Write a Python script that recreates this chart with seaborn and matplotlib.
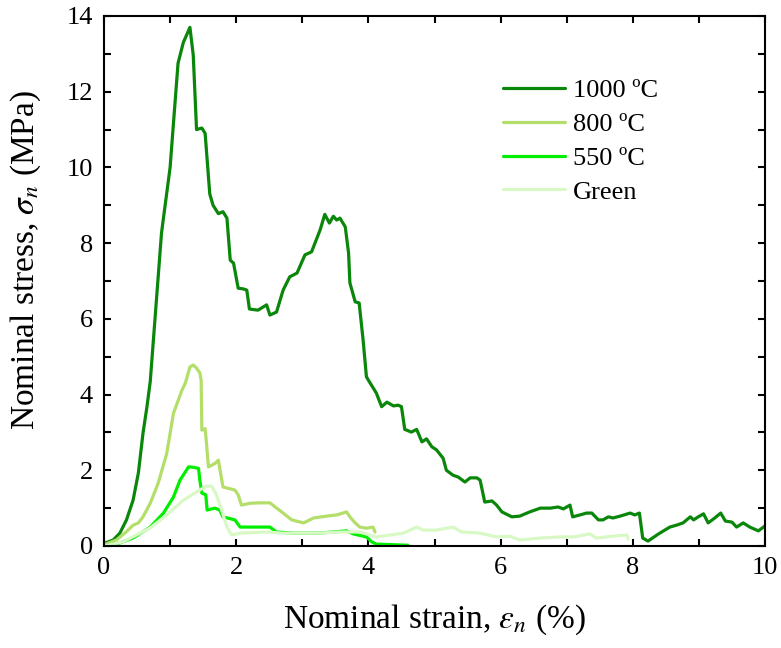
import matplotlib
matplotlib.use("Agg")
import matplotlib.pyplot as plt
import seaborn as sns
import pandas as pd
from matplotlib.ticker import MultipleLocator

# ---- data ----
labels = ["1000 ºC", "800 ºC", "550 ºC", "Green"]
colors = ["#0a870a", "#b3de69", "#00ee00", "#d8f9c6"]

x_1000 = [0.0, 0.02, 0.14, 0.24, 0.34, 0.44, 0.52, 0.59, 0.65, 0.70, 0.87, 1.0, 1.12, 1.2, 1.30,
          1.35, 1.40, 1.48, 1.53, 1.60, 1.65, 1.73, 1.80, 1.86, 1.91, 1.96, 2.03, 2.11, 2.16, 2.20,
          2.33, 2.46, 2.51, 2.61, 2.71, 2.81, 2.92, 3.04, 3.14, 3.27, 3.34, 3.41, 3.47, 3.52, 3.57,
          3.65, 3.70, 3.72, 3.80, 3.86, 3.92, 3.97, 4.0, 4.12, 4.20, 4.28, 4.38, 4.45, 4.50, 4.55,
          4.65, 4.73, 4.81, 4.88, 4.96, 5.03, 5.13, 5.18, 5.28, 5.36, 5.46, 5.54, 5.64, 5.69, 5.76,
          5.87, 5.94, 6.02, 6.17, 6.29, 6.44, 6.60, 6.75, 6.87, 6.95, 7.05, 7.09, 7.20, 7.30, 7.38,
          7.48, 7.55, 7.63, 7.70, 7.81, 7.96, 8.03, 8.10, 8.15, 8.23, 8.39, 8.56, 8.66, 8.76, 8.87,
          8.92, 8.99, 9.07, 9.14, 9.24, 9.33, 9.40, 9.50, 9.57, 9.67, 9.77, 9.90, 10.0]
y_1000 = [0.08, 0.08, 0.16, 0.34, 0.69, 1.21, 1.93, 2.98, 3.68, 4.35, 8.27, 10.0, 12.75, 13.3, 13.7,
          12.97, 11.0, 11.04, 10.9, 9.3, 9.0, 8.78, 8.83, 8.66, 7.55, 7.47, 6.81, 6.79, 6.76, 6.26,
          6.23, 6.37, 6.10, 6.18, 6.76, 7.11, 7.21, 7.69, 7.77, 8.35, 8.76, 8.53, 8.71, 8.61, 8.66,
          8.43, 7.74, 6.95, 6.45, 6.42, 5.44, 4.47, 4.38, 4.04, 3.68, 3.80, 3.70, 3.72, 3.68, 3.08,
          3.01, 3.08, 2.75, 2.83, 2.62, 2.54, 2.32, 2.0, 1.87, 1.82, 1.69, 1.80, 1.80, 1.74, 1.16,
          1.19, 1.08, 0.90, 0.77, 0.79, 0.90, 1.00, 1.00, 1.03, 0.98, 1.08, 0.77, 0.82, 0.87, 0.87,
          0.69, 0.69, 0.77, 0.74, 0.79, 0.87, 0.82, 0.87, 0.21, 0.13, 0.32, 0.50, 0.55, 0.61, 0.77,
          0.69, 0.77, 0.85, 0.61, 0.74, 0.87, 0.66, 0.63, 0.50, 0.61, 0.50, 0.40, 0.53]

x_800 = [0.0, 0.19, 0.34, 0.44, 0.52, 0.59, 0.70, 0.82, 0.95, 1.05, 1.18, 1.23, 1.30, 1.35, 1.40,
         1.45, 1.47, 1.48, 1.53, 1.55, 1.58, 1.68, 1.73, 1.80, 1.86, 1.98, 2.03, 2.08, 2.21, 2.36,
         2.51, 2.59, 2.71, 2.84, 3.02, 3.17, 3.37, 3.52, 3.67, 3.72, 3.80, 3.87, 3.97, 4.07, 4.10]
y_800 = [0.03, 0.16, 0.38, 0.55, 0.61, 0.77, 1.13, 1.66, 2.45, 3.50, 4.12, 4.30, 4.73, 4.78, 4.70,
         4.57, 4.38, 3.06, 3.10, 2.72, 2.09, 2.18, 2.27, 1.56, 1.53, 1.48, 1.35, 1.08, 1.13, 1.14,
         1.14, 1.03, 0.87, 0.69, 0.61, 0.74, 0.79, 0.82, 0.90, 0.77, 0.61, 0.50, 0.47, 0.50, 0.37]

x_550 = [0.0, 0.24, 0.44, 0.70, 0.90, 1.05, 1.15, 1.28, 1.35, 1.43, 1.45, 1.48, 1.54, 1.56, 1.68,
         1.75, 1.80, 1.98, 2.06, 2.36, 2.51, 2.61, 2.86, 3.22, 3.47, 3.67, 3.77, 3.97, 4.05, 4.12, 4.60]
y_550 = [0.0, 0.08, 0.21, 0.50, 0.87, 1.29, 1.74, 2.09, 2.08, 2.05, 1.74, 1.40, 1.35, 0.95, 1.00,
         0.95, 0.77, 0.69, 0.50, 0.50, 0.50, 0.37, 0.34, 0.34, 0.37, 0.40, 0.32, 0.24, 0.11, 0.05, 0.02]

x_green = [0.0, 0.29, 0.49, 0.70, 0.95, 1.20, 1.45, 1.55, 1.63, 1.70, 1.78, 1.86, 1.93, 2.06, 2.46,
           2.71, 3.22, 3.57, 3.87, 4.12, 4.33, 4.53, 4.73, 4.83, 5.03, 5.28, 5.41, 5.69, 5.94, 6.14,
           6.29, 6.60, 6.90, 7.10, 7.35, 7.45, 7.70, 7.91, 7.93]
y_green = [0.0, 0.11, 0.29, 0.48, 0.82, 1.21, 1.48, 1.58, 1.58, 1.35, 0.95, 0.50, 0.29, 0.34, 0.37,
           0.34, 0.34, 0.37, 0.37, 0.24, 0.29, 0.34, 0.50, 0.42, 0.42, 0.50, 0.37, 0.34, 0.24, 0.26,
           0.16, 0.21, 0.24, 0.24, 0.32, 0.21, 0.26, 0.29, 0.18]

series_x = [x_1000, x_800, x_550, x_green]
series_y = [y_1000, y_800, y_550, y_green]

frames = []
for lab, xs, ys in zip(labels, series_x, series_y):
    frames.append(pd.DataFrame({"strain": xs, "stress": ys, "series": lab}))
df = pd.concat(frames, ignore_index=True)

# ---- style ----
sns.set_theme(style="ticks")
plt.rcParams["font.family"] = ["Liberation Serif", "DejaVu Serif"]
plt.rcParams["mathtext.fontset"] = "stix"
plt.rcParams["text.color"] = "black"
plt.rcParams["axes.labelcolor"] = "black"
plt.rcParams["xtick.color"] = "black"
plt.rcParams["ytick.color"] = "black"
plt.rcParams["axes.linewidth"] = 1.5

fig = plt.figure(figsize=(7.81, 6.48), dpi=100)
ax = fig.add_axes([104 / 781, 1 - 546 / 648, (765 - 104) / 781, (546 - 16) / 648])

sns.lineplot(data=df, x="strain", y="stress", hue="series", hue_order=labels,
             palette=dict(zip(labels, colors)), sort=False, estimator=None,
             units="series", linewidth=2.3, ax=ax, legend=True)

ax.set_xlim(0, 10)
ax.set_ylim(0, 14)
ax.xaxis.set_major_locator(MultipleLocator(2))
ax.xaxis.set_minor_locator(MultipleLocator(1))
ax.yaxis.set_major_locator(MultipleLocator(2))
ax.yaxis.set_minor_locator(MultipleLocator(1))
ax.tick_params(which="both", direction="in", top=True, right=True, length=5, width=1.5,
               labelsize=19, labelcolor="black", color="black", pad=8)
for sp in ax.spines.values():
    sp.set_color("black")
    sp.set_linewidth(1.5)

ax.set_xlabel(r"Nominal strain, $\varepsilon_n$ (%)", fontsize=24, color="black")
ax.set_ylabel(r"Nominal stress, $\sigma_n$ (MPa)", fontsize=24, color="black")
ax.xaxis.set_label_coords(0.5, -0.106)
ax.yaxis.set_label_coords(-0.092, 0.54)

leg = ax.legend(loc="upper left", bbox_to_anchor=(0.568, 0.926), frameon=False, fontsize=19,
                handlelength=2.35, handletextpad=0.3, labelspacing=0.39)
for h in leg.get_lines():
    h.set_linewidth(2.3)

fig.savefig("out.png", dpi=100)
